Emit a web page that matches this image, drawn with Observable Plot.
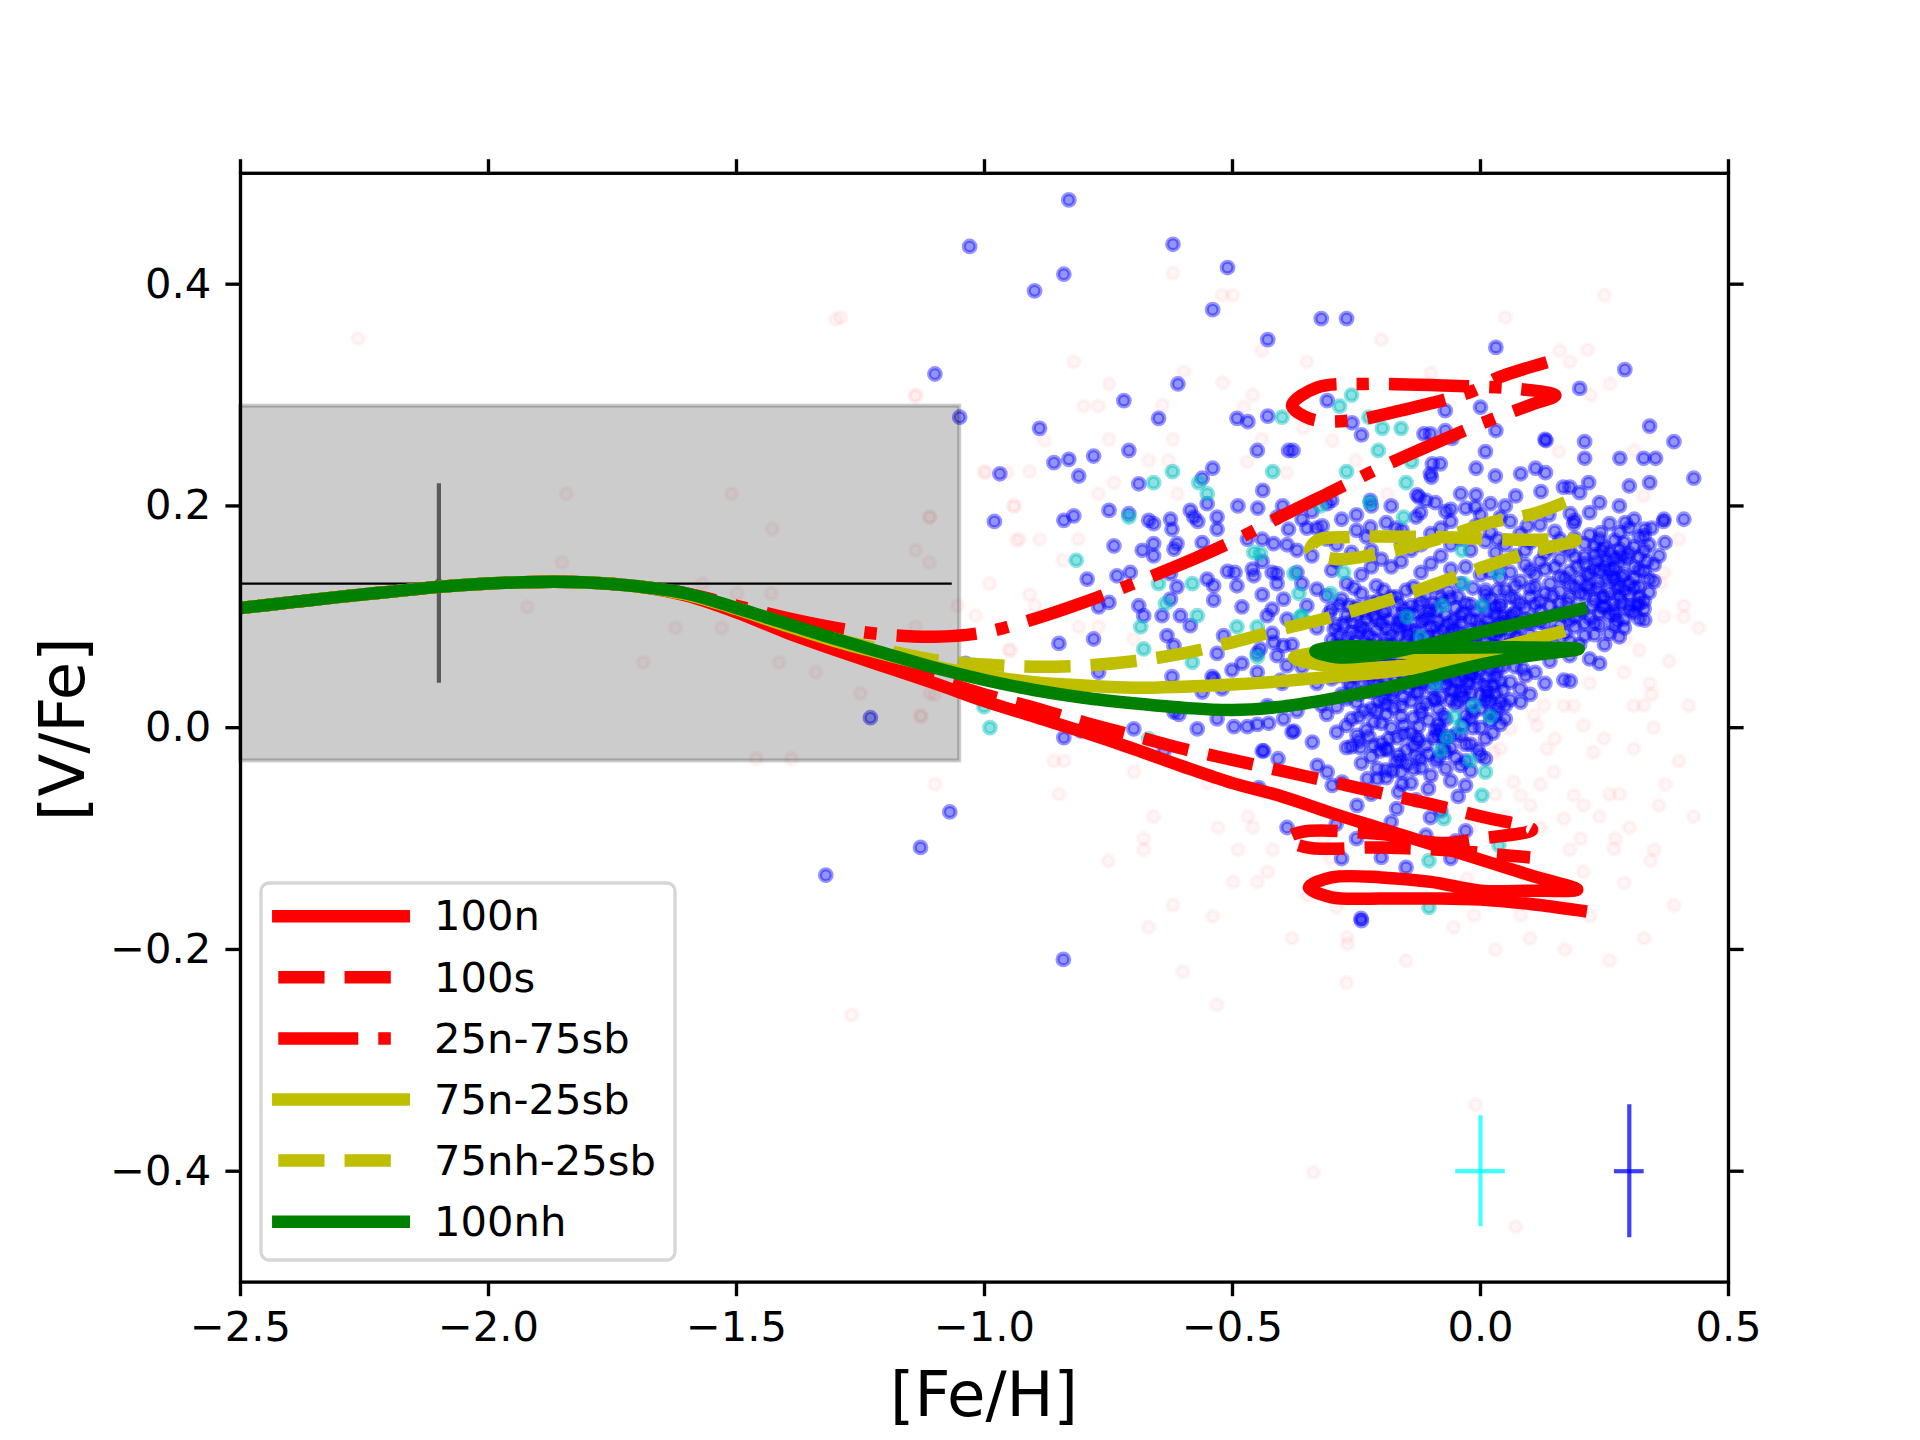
<!DOCTYPE html>
<html><head><meta charset="utf-8">
<script src="https://cdn.jsdelivr.net/npm/d3@7"></script>
<script src="https://cdn.jsdelivr.net/npm/@observablehq/plot@0.6"></script>
<style>html,body{margin:0;padding:0;background:#fff;}#chart{width:1920px;height:1440px;}</style>
</head><body><div id="chart"></div>
<script>
const xTicks = [-2.5,-2,-1.5,-1,-0.5,0,0.5];
const yTicks = [-0.4,-0.2,0,0.2,0.4];
const seriesNames = ["100n","100s","25n-75sb","75n-25sb","75nh-25sb","100nh"];

const baseCurve = [[-2.5,0.108],[-2.4,0.113],[-2.3,0.118],[-2.2,0.1225],[-2.1,0.127],[-2.0,0.130],[-1.9,0.1315],[-1.8,0.131],[-1.7,0.1275]];
const curve100n = [[-1.6,0.119],[-1.5,0.104],[-1.4,0.086],[-1.3,0.070],[-1.2,0.055],[-1.1,0.040],[-1.0,0.024],[-0.9,0.010],[-0.8,-0.004],[-0.7,-0.019],[-0.6,-0.035],[-0.5,-0.050],[-0.4,-0.062],[-0.3,-0.077],[-0.2,-0.091],[-0.1,-0.105],[0.0,-0.119],[0.1,-0.133],[0.195,-0.146],[0.1,-0.147],[0.0,-0.147],[-0.1,-0.139],[-0.2,-0.135],[-0.3,-0.135],[-0.346,-0.144],[-0.3,-0.153],[-0.2,-0.154],[-0.1,-0.154],[0.0,-0.155],[0.1,-0.159],[0.202,-0.165]];
const curve100s = [[-1.6,0.120],[-1.5,0.105],[-1.4,0.089],[-1.3,0.074],[-1.2,0.059],[-1.1,0.044],[-1.0,0.030],[-0.9,0.018],[-0.8,0.005],[-0.7,-0.007],[-0.6,-0.019],[-0.5,-0.029],[-0.4,-0.039],[-0.3,-0.049],[-0.2,-0.059],[-0.1,-0.069],[0.0,-0.080],[0.104,-0.092],[0.0,-0.100],[-0.08,-0.104],[-0.2,-0.096],[-0.36,-0.094],[-0.39,-0.100],[-0.35,-0.108],[-0.2,-0.108],[-0.05,-0.111],[0.05,-0.115],[0.10,-0.117]];
const curve25n75sb = [[-1.6,0.121],[-1.5,0.110],[-1.4,0.099],[-1.3,0.090],[-1.2,0.084],[-1.1,0.082],[-1.0,0.086],[-0.9,0.098],[-0.8,0.113],[-0.7,0.130],[-0.6,0.148],[-0.5,0.168],[-0.4,0.191],[-0.3,0.213],[-0.2,0.235],[-0.1,0.255],[0.0,0.274],[0.1,0.291],[0.151,0.2996],[0.074,0.3056],[-0.074,0.3086],[-0.235,0.310],[-0.329,0.307],[-0.380,0.2906],[-0.343,0.2786],[-0.262,0.277],[-0.175,0.2846],[-0.0135,0.304],[0.0302,0.3147],[0.134,0.3296]];
const curve75n25sb = [[-1.6,0.120],[-1.5,0.107],[-1.4,0.092],[-1.3,0.078],[-1.2,0.066],[-1.1,0.055],[-1.0,0.047],[-0.9,0.041],[-0.8,0.038],[-0.7,0.036],[-0.6,0.037],[-0.5,0.039],[-0.4,0.042],[-0.3,0.046],[-0.195,0.050],[-0.1,0.055],[0.0,0.060],[0.04,0.062],[-0.128,0.067],[-0.296,0.069],[-0.376,0.063],[-0.296,0.055],[-0.128,0.057],[0.007,0.069],[0.158,0.086]];
const curve75nh25sb = [[-1.6,0.120],[-1.5,0.108],[-1.4,0.093],[-1.3,0.080],[-1.2,0.070],[-1.1,0.061],[-1.0,0.057],[-0.9,0.055],[-0.8,0.056],[-0.7,0.060],[-0.6,0.067],[-0.5,0.077],[-0.4,0.089],[-0.3,0.100],[-0.2,0.113],[-0.1,0.128],[0.0,0.144],[0.114,0.160],[0.192,0.169],[0.074,0.1695],[-0.094,0.172],[-0.262,0.172],[-0.329,0.169],[-0.343,0.160],[-0.290,0.152],[-0.195,0.158],[-0.094,0.169],[0.020,0.185],[0.107,0.193],[0.171,0.2034]];
const curve100nh = [[-1.6,0.121],[-1.5,0.108],[-1.4,0.094],[-1.3,0.080],[-1.2,0.067],[-1.1,0.054],[-1.0,0.043],[-0.9,0.034],[-0.8,0.027],[-0.7,0.022],[-0.6,0.018],[-0.5,0.016],[-0.4,0.019],[-0.3,0.026],[-0.2,0.035],[-0.1,0.046],[0.0,0.057],[0.1,0.065],[0.198,0.071],[0.07,0.0725],[-0.13,0.072],[-0.29,0.073],[-0.333,0.069],[-0.29,0.0636],[-0.195,0.0667],[-0.06,0.080],[0.074,0.0937],[0.202,0.107]];

const boxX = [-2.5,-1.05];
const boxY = [-0.03,0.29];
const meanLine = {y:0.13, x1:-2.5, x2:-1.065};
const lowFeBar = {x:-2.1, y:0.13, lo:0.04, hi:0.22};
const crossX = [0.0,0.3];
const crossY = [-0.4,-0.4];
const crossXErr = [0.05,0.03];
const crossYErr = [0.05,0.06];

const blueOuter = [[-0.830,0.476],[-1.030,0.434],[-0.620,0.436],[-0.840,0.409],[-0.899,0.394],[-0.510,0.415],[-0.540,0.377],[-0.429,0.350],[-1.100,0.319],[-0.610,0.310],[-0.719,0.295],[-1.050,0.280],[-0.649,0.279],[-0.889,0.270],[-0.491,0.279],[-0.469,0.276],[-0.429,0.281],[-0.450,0.250],[-0.709,0.250],[-0.860,0.239],[-0.830,0.242],[-0.780,0.245],[-0.810,0.227],[-0.969,0.229],[-0.689,0.220],[-0.540,0.234],[-0.561,0.225],[-0.439,0.214],[-0.551,0.202],[-0.489,0.200],[-0.449,0.198],[-0.399,0.200],[-0.980,0.186],[-0.840,0.187],[-0.820,0.191],[-0.749,0.196],[-0.709,0.193],[-0.669,0.187],[-0.659,0.184],[-0.625,0.188],[-0.622,0.179],[-0.585,0.196],[-0.578,0.190],[-0.570,0.186],[-0.531,0.190],[-0.531,0.179],[-0.739,0.164],[-0.682,0.160],[-0.659,0.166],[-0.659,0.155],[-0.618,0.161],[-0.612,0.166],[-0.561,0.167],[-0.470,0.170],[-0.440,0.170],[-0.417,0.166],[-0.387,0.179],[-0.387,0.250],
[-0.321,0.369],[-0.270,0.369],[0.031,0.343],[0.291,0.323],[0.200,0.306],[-0.309,0.295],[0.000,0.289],[-0.071,0.286],[-0.259,0.275],[-0.240,0.264],[-0.114,0.265],[-0.101,0.265],[-0.071,0.268],[-0.057,0.261],[0.031,0.268],[-0.378,0.250],[0.010,0.249],[0.130,0.260],[0.132,0.259],[0.210,0.258],[0.341,0.272],[0.390,0.258],[0.210,0.243],[0.281,0.243],[0.329,0.243],[0.353,0.243],[-0.097,0.238],[-0.081,0.238],[-0.101,0.229],[-0.099,0.226],[-0.009,0.234],[0.030,0.227],[0.081,0.229],[0.111,0.234],[0.131,0.230],[0.218,0.221],[0.300,0.218],[0.341,0.221],[0.430,0.225],[0.167,0.217],[0.180,0.217],[0.122,0.213],[0.200,0.212],[0.071,0.209],[-0.040,0.211],[-0.009,0.210],[-0.128,0.210],[-0.124,0.208],[-0.091,0.203],[0.020,0.202],[0.240,0.203],[0.280,0.200],[-0.222,0.205],[-0.309,0.202],[-0.250,0.192],[-0.121,0.194],[-0.060,0.197],[-0.010,0.199],[0.138,0.192],[0.181,0.193],[0.220,0.194],[0.370,0.188],[0.410,0.188],[-0.360,0.188],[-0.319,0.182],[-0.158,0.178],[0.188,0.184],[0.292,0.185],[0.331,0.179],[0.372,0.167],[0.242,0.176],[0.094,0.182],[-0.222,0.181],[0.369,0.186],
[-1.230,0.009],[-1.320,-0.133],[-1.129,-0.108],[-1.070,-0.076],[-0.841,-0.209],[-0.241,-0.172],[-0.850,0.076],[-0.780,0.080],[-0.770,0.050],[-1.038,0.058],[-1.149,0.062],[-0.840,-0.009],[-0.806,-0.003],[-0.699,-0.001],[-0.638,-0.021],[-0.437,-0.021],[-0.408,-0.028],[-0.447,-0.054],[-0.390,-0.090],
[-0.571,-0.001],[-0.531,0.008],[-0.497,0.001],[-0.470,0.001],[-0.450,0.003],[-0.427,0.004],[-0.397,0.008],[-0.618,0.014],[-0.608,0.012],[-0.561,0.032],[-0.538,0.044],[-0.521,0.035],[-0.501,0.052],[-0.481,0.058],[-0.450,0.067],[-0.622,0.046],[-0.541,0.046],
[-0.538,0.115],[-0.585,0.092],[-0.605,0.101],[-0.632,0.083],[-0.618,0.074],[-0.689,0.110],[-0.679,0.101],[-0.642,0.101],[-0.625,0.116],[-0.612,0.127],[-0.481,0.109],[-0.518,0.083],[-0.531,0.067],[-0.430,0.101],[-0.420,0.107],[-0.397,0.116],[-0.390,0.098],[-0.770,0.109],[-0.749,0.113],[-0.793,0.134],[-0.491,0.128],
[-0.733,0.137],[-0.706,0.140],[-0.625,0.139],[-0.551,0.134],[-0.538,0.128],[-0.457,0.137],[-0.410,0.139],[-0.510,0.141],[-0.495,0.140],[-0.460,0.143],[-0.420,0.140],
[-0.444,0.071],[-0.410,0.065],[-0.397,0.074],[-0.417,0.077],[-0.390,0.056],[-0.403,0.043],
[0.331,0.097],[0.330,0.107],[0.320,0.112],[0.300,0.110],[0.270,0.106],[0.245,0.109],[0.240,0.058],[0.168,0.043],[0.181,0.042],[0.091,0.047],[0.081,0.023],[0.040,0.023],[0.013,0.028],[0.010,-0.028],[-0.030,-0.030],[-0.030,-0.052],[-0.030,-0.093],[-0.101,-0.081],[-0.158,-0.051],[-0.169,-0.073],[-0.200,-0.117],[-0.280,-0.118],[-0.240,-0.174],[-0.249,-0.070],[-0.291,-0.087],[-0.329,-0.034],[-0.309,-0.040],[-0.299,-0.052],[-0.228,-0.046],[-0.208,-0.046],[-0.376,-0.003],[-0.339,-0.013],[-0.128,-0.009],[-0.074,-0.010],[-0.060,-0.018],[-0.087,-0.007],[-0.148,-0.033],[-0.135,-0.037],[-0.121,-0.028],[-0.168,-0.009],[-0.249,-0.007],[-0.242,-0.018],[-0.215,-0.016],[-0.202,-0.021],[-0.188,-0.020],[-0.208,-0.037],[-0.440,-0.021],[-0.380,-0.004],[-0.279,-0.049],[-0.178,-0.039],[-0.160,-0.030],[-0.130,-0.025],[-0.081,-0.002]];

const blueCore = [[-0.28,0.116],[-0.22,0.113],[-0.17,0.118],[-0.12,0.114],[-0.08,0.117],[-0.03,0.112],[0.02,0.116],
[-0.30,0.107],[-0.25,0.109],[-0.19,0.106],[-0.14,0.110],[-0.10,0.107],[-0.05,0.108],[-0.01,0.105],[0.04,0.109],
[-0.27,0.101],[-0.23,0.098],[-0.16,0.102],[-0.11,0.099],[-0.07,0.101],[-0.02,0.098],[0.03,0.102],
[-0.29,0.093],[-0.24,0.091],[-0.20,0.094],[-0.15,0.092],[-0.12,0.095],[-0.09,0.091],[-0.04,0.094],[0.00,0.092],[0.05,0.095],
[-0.26,0.086],[-0.21,0.088],[-0.18,0.084],[-0.13,0.087],[-0.06,0.085],[-0.02,0.087],[0.02,0.084],
[-0.30,0.079],[-0.25,0.077],[-0.19,0.080],[-0.15,0.078],[-0.11,0.081],[-0.08,0.077],[-0.04,0.080],[0.01,0.078],[0.04,0.081],
[-0.28,0.072],[-0.22,0.074],[-0.17,0.071],[-0.12,0.073],[-0.09,0.070],[-0.05,0.074],[-0.01,0.071],[0.03,0.073],
[-0.26,0.065],[-0.20,0.063],[-0.16,0.066],[-0.13,0.064],[-0.10,0.067],[-0.07,0.063],[-0.03,0.066],[0.01,0.064],[0.05,0.066],
[-0.29,0.058],[-0.24,0.060],[-0.18,0.057],[-0.14,0.059],[-0.08,0.056],[-0.04,0.059],[0.00,0.057],[0.03,0.060],
[-0.27,0.051],[-0.21,0.049],[-0.17,0.052],[-0.11,0.050],[-0.06,0.053],[-0.02,0.049],[0.02,0.052],
[-0.30,0.044],[-0.23,0.046],[-0.19,0.043],[-0.15,0.045],[-0.12,0.042],[-0.09,0.046],[-0.05,0.043],[-0.01,0.045],[0.04,0.042],
[-0.26,0.037],[-0.20,0.035],[-0.16,0.038],[-0.10,0.036],[-0.07,0.039],[-0.03,0.035],[0.01,0.038],
[-0.28,0.030],[-0.22,0.032],[-0.18,0.029],[-0.13,0.031],[-0.08,0.028],[-0.04,0.032],[0.00,0.029],[0.03,0.031],
[-0.25,0.023],[-0.19,0.021],[-0.14,0.024],[-0.11,0.022],[-0.06,0.025],[-0.02,0.021],[0.02,0.024],
[-0.235,0.104],[-0.185,0.097],[-0.135,0.103],[-0.085,0.096],[-0.035,0.104],
[-0.225,0.083],[-0.165,0.090],[-0.105,0.083],[-0.055,0.089],[-0.005,0.083],
[-0.245,0.068],[-0.185,0.061],[-0.115,0.069],[-0.065,0.061],[-0.015,0.068],
[-0.215,0.054],[-0.155,0.047],[-0.095,0.054],[-0.035,0.047],
[-0.235,0.040],[-0.175,0.033],[-0.115,0.040],[-0.055,0.033],[-0.005,0.040],
[-0.265,0.110],[-0.205,0.115],[-0.155,0.107],[-0.095,0.112],[-0.045,0.118],[0.005,0.110],[0.045,0.100],
[-0.275,0.094],[-0.215,0.101],[-0.165,0.096],[-0.105,0.104],[-0.055,0.097],[0.015,0.097],[0.035,0.088],
[-0.285,0.083],[-0.235,0.089],[-0.195,0.075],[-0.145,0.084],[-0.075,0.088],[-0.025,0.076],[0.025,0.090],
[-0.265,0.074],[-0.205,0.069],[-0.145,0.070],[-0.095,0.076],[-0.035,0.072],[0.015,0.059],[0.045,0.070],
[-0.275,0.062],[-0.225,0.056],[-0.165,0.059],[-0.125,0.055],[-0.055,0.066],[-0.015,0.055],[0.035,0.054],
[-0.255,0.046],[-0.205,0.041],[-0.135,0.048],[-0.075,0.045],[-0.025,0.041],[0.015,0.046],
[-0.245,0.030],[-0.195,0.026],[-0.145,0.036],[-0.095,0.026],[-0.045,0.024],[0.015,0.033],
[-0.235,0.015],[-0.175,0.018],[-0.085,0.017],[-0.015,0.014],[0.035,0.018],
[-0.215,0.005],[-0.155,0.002],[-0.105,0.007],[-0.035,0.003],[0.025,-0.005],[-0.185,-0.010],[-0.125,-0.012],[-0.065,-0.008],[-0.005,-0.020],[-0.245,-0.012],[-0.165,-0.025],[-0.085,-0.027],[-0.105,-0.055],[-0.165,-0.058],[-0.045,-0.062]];

const blueCore2 = [[-0.255,0.126],[-0.195,0.124],[-0.135,0.127],[-0.065,0.123],[-0.015,0.126],[0.035,0.124],
[-0.31,0.119],[-0.24,0.121],[-0.18,0.118],[-0.11,0.120],[-0.06,0.117],[0.01,0.120],[0.06,0.118],
[-0.285,0.111],[-0.215,0.109],[-0.165,0.112],[-0.125,0.110],[-0.075,0.113],[-0.02,0.111],[0.03,0.109],[0.08,0.112],
[-0.305,0.103],[-0.25,0.101],[-0.195,0.104],[-0.145,0.102],[-0.09,0.105],[-0.04,0.101],[0.015,0.104],[0.065,0.102],
[-0.26,0.096],[-0.21,0.098],[-0.16,0.095],[-0.115,0.097],[-0.065,0.094],[-0.01,0.097],[0.04,0.095],[0.09,0.098],
[-0.295,0.089],[-0.245,0.087],[-0.19,0.090],[-0.14,0.088],[-0.10,0.091],[-0.045,0.087],[0.01,0.090],[0.06,0.088],
[-0.27,0.082],[-0.215,0.080],[-0.165,0.083],[-0.125,0.081],[-0.085,0.084],[-0.03,0.080],[0.03,0.083],[0.075,0.081],
[-0.29,0.075],[-0.235,0.077],[-0.18,0.074],[-0.135,0.076],[-0.065,0.073],[-0.015,0.076],[0.055,0.074],
[-0.255,0.068],[-0.21,0.066],[-0.155,0.069],[-0.11,0.067],[-0.075,0.070],[-0.025,0.066],[0.025,0.069],[0.07,0.067],
[-0.28,0.061],[-0.23,0.063],[-0.19,0.060],[-0.145,0.062],[-0.09,0.059],[-0.045,0.062],[0.005,0.060],[0.045,0.063],
[-0.25,0.054],[-0.195,0.052],[-0.15,0.055],[-0.10,0.053],[-0.055,0.056],[-0.005,0.052],[0.045,0.055],[0.085,0.053],
[-0.285,0.047],[-0.22,0.049],[-0.175,0.046],[-0.125,0.048],[-0.065,0.045],[-0.02,0.048],[0.03,0.046],
[-0.265,0.040],[-0.21,0.038],[-0.14,0.041],[-0.09,0.039],[-0.04,0.042],[0.025,0.038],[0.06,0.041],
[-0.23,0.033],[-0.185,0.035],[-0.125,0.032],[-0.06,0.034],[-0.02,0.031],[0.045,0.034],
[-0.27,0.026],[-0.205,0.024],[-0.155,0.027],[-0.09,0.025],[-0.035,0.028],[0.01,0.024],
[-0.29,0.019],[-0.22,0.017],[-0.16,0.020],[-0.12,0.018],[-0.05,0.021],[0.00,0.017],[0.05,0.020],
[-0.245,0.010],[-0.19,0.012],[-0.135,0.009],[-0.075,0.011],[-0.02,0.008],[0.03,0.011],
[-0.27,0.002],[-0.20,0.004],[-0.125,0.001],[-0.085,0.003],[-0.015,0.000],[0.04,0.003],
[-0.225,-0.008],[-0.155,-0.006],[-0.095,-0.009],[-0.04,-0.007],[0.01,-0.010],
[-0.26,-0.017],[-0.19,-0.019],[-0.135,-0.016],[-0.075,-0.018],[-0.03,-0.015],
[-0.22,-0.026],[-0.105,-0.024],[-0.05,-0.027],[0.00,-0.025],
[-0.19,-0.038],[-0.16,-0.040],[-0.07,-0.037],[-0.02,-0.039]];

const blueRight = [[0.06,0.186],[0.12,0.183],[0.19,0.187],[0.26,0.184],[0.31,0.188],
[0.08,0.175],[0.15,0.177],[0.22,0.174],[0.28,0.176],[0.33,0.173],
[0.05,0.165],[0.10,0.167],[0.17,0.164],[0.21,0.166],[0.25,0.163],[0.29,0.167],[0.34,0.165],
[0.07,0.155],[0.13,0.157],[0.19,0.154],[0.23,0.156],[0.27,0.153],[0.30,0.157],[0.32,0.154],
[0.09,0.147],[0.15,0.145],[0.21,0.148],[0.25,0.146],[0.28,0.149],[0.31,0.145],[0.35,0.147],
[0.06,0.140],[0.11,0.138],[0.18,0.141],[0.22,0.139],[0.26,0.142],[0.29,0.138],[0.33,0.141],
[0.08,0.132],[0.14,0.130],[0.20,0.133],[0.24,0.131],[0.27,0.134],[0.30,0.130],
[0.05,0.124],[0.10,0.126],[0.16,0.123],[0.22,0.125],[0.26,0.122],[0.31,0.126],
[0.07,0.116],[0.12,0.114],[0.18,0.117],[0.23,0.115],[0.28,0.118],[0.33,0.114],
[0.09,0.108],[0.14,0.110],[0.20,0.107],[0.25,0.109],[0.30,0.106],
[0.06,0.100],[0.11,0.098],[0.17,0.101],[0.22,0.099],[0.27,0.102],[0.32,0.098],
[0.08,0.092],[0.13,0.094],[0.19,0.091],[0.24,0.093],[0.29,0.090],
[0.10,0.084],[0.15,0.086],[0.21,0.083],[0.26,0.085],
[0.235,0.150],[0.265,0.137],[0.285,0.155],[0.215,0.128],[0.245,0.160],[0.275,0.125],
[0.06,0.075],[0.09,0.068],[0.12,0.072],[0.07,0.055],[0.11,0.050],[0.14,0.060],[0.08,0.035],[0.13,0.040],[0.06,0.025],[0.10,0.030],[0.15,0.075],[0.18,0.065],[0.20,0.075],[0.17,0.085],[0.02,0.012],[0.05,0.008],[0.22,0.062],[0.25,0.075],[0.28,0.082],
[0.035,0.170],[0.09,0.160],[0.16,0.170],[0.24,0.170],[0.30,0.180],[0.345,0.180],
[0.12,0.150],[0.18,0.160],[0.26,0.158],[0.33,0.160],[0.36,0.155],
[0.04,0.135],[0.10,0.142],[0.16,0.136],[0.23,0.143],[0.31,0.135],[0.35,0.132],
[0.07,0.128],[0.13,0.121],[0.19,0.127],[0.25,0.118],[0.29,0.124],[0.34,0.122],
[0.04,0.112],[0.10,0.118],[0.16,0.112],[0.21,0.120],[0.27,0.112],[0.32,0.118],
[0.07,0.104],[0.12,0.105],[0.19,0.100],[0.24,0.104],[0.29,0.098],
[0.04,0.088],[0.10,0.094],[0.16,0.092],[0.21,0.094],[0.27,0.092],
[0.07,0.082],[0.12,0.080],[0.18,0.078],[0.23,0.084],
[0.19,0.171],[0.27,0.169],[0.32,0.172],
[0.14,0.162],[0.23,0.164],[0.28,0.161],[0.31,0.163],
[0.16,0.152],[0.21,0.154],[0.255,0.151],[0.295,0.153],[0.335,0.150],
[0.13,0.143],[0.195,0.145],[0.24,0.142],[0.27,0.144],[0.32,0.142],
[0.17,0.135],[0.215,0.137],[0.255,0.134],[0.285,0.136],[0.34,0.134],
[0.11,0.127],[0.18,0.129],[0.235,0.126],[0.28,0.128],[0.32,0.127],
[0.145,0.119],[0.20,0.121],[0.245,0.118],[0.30,0.120],
[0.11,0.111],[0.175,0.113],[0.225,0.110],[0.285,0.112],[0.315,0.110],
[0.155,0.103],[0.205,0.105],[0.26,0.102],[0.31,0.104],
[0.12,0.095],[0.18,0.097],[0.23,0.094],[0.275,0.096]];

const blueFringe = [[-0.33,0.125],[-0.27,0.130],[-0.21,0.128],[-0.15,0.124],[-0.09,0.127],[-0.04,0.130],[0.01,0.124],
[-0.30,0.142],[-0.24,0.138],[-0.18,0.145],[-0.12,0.140],[-0.06,0.143],[0.00,0.138],[0.04,0.148],
[-0.34,0.155],[-0.26,0.158],[-0.20,0.152],[-0.14,0.160],[-0.08,0.155],[-0.02,0.160],[0.03,0.158],
[-0.31,0.170],[-0.23,0.172],[-0.16,0.168],[-0.10,0.175],[-0.04,0.170],[0.02,0.176],
[-0.28,0.188],[-0.19,0.185],[-0.13,0.190],[-0.06,0.186],[0.00,0.192],
[-0.22,0.200],[-0.11,0.205],[-0.03,0.198],
[-0.44,0.120],[-0.41,0.130],[-0.37,0.140],[-0.35,0.110],[-0.33,0.090],[-0.38,0.075],[-0.42,0.085],[-0.36,0.055],[-0.33,0.040],[-0.40,0.040],[-0.45,0.050],[-0.32,0.020],[-0.37,0.015],[-0.43,0.020],[-0.35,0.180],[-0.39,0.165],[-0.44,0.150],[-0.34,0.195],[-0.41,0.190],
[-0.31,0.012],[-0.26,0.008],[-0.21,0.015],[-0.16,0.010],[-0.12,0.013],[-0.07,0.008],[-0.03,0.011],[0.02,0.006],
[-0.29,-0.004],[-0.23,-0.002],[-0.18,0.000],[-0.14,-0.005],[-0.09,-0.002],[-0.05,-0.006],[0.00,0.000],
[-0.27,-0.018],[-0.20,-0.014],[-0.15,-0.020],[-0.11,-0.016],[-0.07,-0.022],[-0.02,-0.015],
[-0.24,-0.032],[-0.17,-0.030],[-0.12,-0.036],[-0.09,-0.030],[-0.04,-0.034],
[-0.19,-0.045],[-0.14,-0.050],[-0.10,-0.043],[-0.06,-0.048],
[-0.22,-0.060],[-0.13,-0.065],[-0.08,-0.075],[-0.18,-0.085],[-0.11,-0.097],[-0.05,-0.102],[-0.25,-0.100],[-0.15,-0.126],[-0.06,-0.118],
[-0.36,0.130],[-0.29,0.150],[-0.22,0.145],[-0.16,0.150],[-0.10,0.148],[-0.03,0.145],[0.02,0.140],
[-0.37,0.160],[-0.29,0.165],[-0.22,0.160],[-0.12,0.165],[-0.06,0.165],[0.01,0.168],
[-0.33,0.180],[-0.25,0.178],[-0.17,0.180],[-0.08,0.180],[-0.01,0.182],[0.04,0.190],
[-0.30,0.205],[-0.18,0.200],[-0.07,0.195],[0.05,0.200]];

const cyanStars = [[-0.400,0.280],[-0.621,0.231],[-0.659,0.221],[-0.419,0.231],[-0.551,0.211],[-0.568,0.221],[-0.709,0.190],[-0.815,0.151],[-0.457,0.158],
[-0.260,0.300],[-0.284,0.290],[-0.225,0.280],[-0.198,0.270],[-0.160,0.270],[-0.206,0.250],[-0.139,0.240],[-0.270,0.231],[-0.150,0.221],[-0.223,0.203],[-0.323,0.200],[-0.155,0.190],
[-0.685,0.091],[-0.679,0.071],[-0.581,0.130],[-0.571,0.101],[-0.635,0.112],[-0.491,0.091],[-0.450,0.091],[-0.581,0.059],[-0.989,0.000],[-1.001,0.019],[-0.995,0.050],[-0.669,-0.010],[-0.649,0.130],[-0.450,0.064],
[0.020,0.010],[-0.040,0.000],[-0.081,-0.021],[-0.020,-0.030],[0.010,-0.040],[0.003,-0.061],[-0.074,-0.082],[-0.104,-0.120],[-0.104,-0.162],[0.003,0.110],[-0.077,0.110],[-0.148,0.100],[-0.302,0.121],[-0.366,0.121],[-0.360,0.101],[-0.121,0.082],[-0.013,0.020],[-0.053,0.010],[-0.067,-0.009],[0.034,0.140],[-0.034,0.130],[-0.276,0.140],[-0.091,0.040],[0.037,-0.106],
[-0.444,0.157],[-0.376,0.139],[-0.363,0.100],[-0.037,0.160]];

const pinkStars = [[-2.263,0.351],[-1.300,0.368],[-1.843,0.211],[-1.922,0.109],[-1.510,0.211],[-1.428,0.179],[-1.688,0.059],[-1.623,0.090],[-1.460,-0.028],[-1.389,-0.028],[-1.414,0.059],[-1.268,-0.259],[-1.140,0.299],[-1.100,-0.051],[-1.250,0.031],[-1.110,0.031],[-1.129,0.011],
[-1.852,0.149],[-1.569,0.130],[-1.499,0.121],[-1.430,0.121],[-1.530,0.090],[-1.340,0.050],[-1.128,0.010],[-1.100,0.030],[-1.111,0.190],[-1.139,0.160],[-1.111,0.149],[-0.990,0.130],[-1.054,0.110],[-1.018,0.101],[-0.948,0.070],[-0.996,0.025],[-0.941,0.200],[-0.998,0.230],[-0.955,0.230],[-0.936,0.169],
[-1.290,0.370],[-0.620,0.410],[-0.521,0.390],[-0.499,0.390],[-0.820,0.330],[-0.598,0.321],[-0.749,0.310],[-0.520,0.311],[-0.459,0.300],[-1.138,0.300],[-0.800,0.290],[-0.770,0.290],[-0.641,0.291],[-0.477,0.289],[-0.441,0.340],[-0.879,0.259],[-0.749,0.260],[-0.620,0.260],[-0.441,0.260],[-0.669,0.241],[-0.629,0.241],[-0.470,0.240],[-1.000,0.231],[-0.909,0.231],[-0.739,0.221],[-0.611,0.211],[-0.770,0.211],[-0.940,0.200],[-1.110,0.190],[-0.930,0.170],[-0.889,0.170],[-0.811,0.170],[-0.842,0.151],
[0.250,0.390],[0.160,0.340],[0.261,0.310],[0.222,0.300],[0.158,0.249],[0.329,0.209],[-0.188,0.211],[-0.357,0.270],[-0.299,0.259],[-0.391,0.230],[-0.252,0.241],[0.216,0.341],
[-0.909,0.120],[-0.898,0.110],[-1.139,0.091],[-0.810,0.091],[-0.770,0.091],[-0.950,0.070],[-0.699,0.080],[-0.860,-0.030],[-0.840,-0.030],[-0.699,-0.040],[-0.659,-0.080],[-0.679,-0.100],[-0.679,-0.110],[-0.529,-0.090],[-0.469,-0.080],[-0.459,-0.090],[-0.489,-0.110],[-0.419,-0.110],[-0.429,-0.130],[-0.499,-0.139],[-0.450,-0.139],[-0.620,-0.160],[-0.540,-0.170],[-0.669,-0.180],
[0.410,0.110],[0.410,0.100],[0.370,0.100],[0.363,0.130],[0.262,0.080],[0.292,0.080],[0.289,0.050],[0.341,0.040],[0.345,0.030],[0.309,0.020],[0.329,0.020],[0.349,0.000],[0.309,-0.019],[0.373,-0.051],[0.260,-0.060],[0.280,-0.060],[0.343,-0.120],[0.269,-0.109],[0.208,-0.130],
[0.208,-0.070],[0.202,-0.100],[0.188,-0.061],[0.168,-0.082],[0.148,-0.040],[0.121,-0.051],[0.101,-0.070],[0.081,-0.061],[0.067,-0.049],[0.040,-0.019],[0.060,-0.001],[0.107,0.011],[0.134,-0.019],[0.114,0.002],[0.128,0.020],[0.168,0.020],[0.188,0.020],[0.208,0.002],[0.228,-0.022],[0.249,-0.010],[-0.067,-0.040],[-0.047,-0.019],[-0.027,-0.010],[0.000,-0.010],[0.027,-0.022],[-0.101,-0.049],[-0.121,-0.061],[-0.027,-0.136],[-0.013,-0.169],[-0.054,-0.180],[-0.269,-0.189],[-0.290,-0.162],[-0.349,-0.151],[-0.302,-0.118],[-0.316,-0.100],[0.081,-0.169],[0.134,-0.136],[0.168,-0.160],[0.272,-0.100],
[-0.010,-0.340],[0.071,-0.450],[-0.337,-0.401],[-0.532,-0.250],[-0.268,-0.195],
[0.05,-0.08],[0.12,-0.09],[0.18,-0.11],[0.24,-0.08],[0.30,-0.09],[0.36,-0.07],[0.40,-0.03],[0.42,0.02],[0.38,0.06],[0.32,0.07],[0.22,0.04],[0.15,-0.01],[0.09,0.04],[0.03,-0.06],[-0.02,-0.09],[0.06,-0.12],[0.14,-0.15],[0.22,-0.17],[0.29,-0.14],[0.35,-0.11],[0.39,-0.16],[0.33,-0.19],[0.26,-0.21],[0.17,-0.20],[0.10,-0.19],[0.03,-0.20],[-0.08,-0.14],[-0.15,-0.21],[0.44,0.09],[0.43,-0.08],[0.37,0.14],[0.40,0.17],[0.31,0.25],[0.18,0.33],[0.05,0.37],[-0.10,0.32],[-0.20,0.35],[-0.35,0.33],[-0.55,-0.05],[-0.75,-0.12],[-0.60,-0.22],[-0.85,-0.06],[-0.38,-0.19],[-0.27,-0.23]];

const X = d => d[0], Y = d => d[1];
const fmt = d3.format(".1f");
const blank = () => "";
const RED = "#ff0000", OLIVE = "#bfbf00", GREEN = "#008000";
const dashed = "46.25,20", dashdot = "80,20,12.5,20";
const tickOpts = {tickSize: 14.6, tickPadding: 14.6, strokeWidth: 3.33, fontSize: 41.67, label: null};

const starStyle = (fill, op, sop) => ({x: X, y: Y, r: 5.8, fill, fillOpacity: op, stroke: fill, strokeOpacity: sop, strokeWidth: 4.17});
const lineStyle = (stroke, dash) => ({x: X, y: Y, stroke, strokeWidth: 12.5, strokeDasharray: dash, strokeLinecap: dash ? "butt" : "square", strokeLinejoin: "round", curve: "catmull-rom", clip: true});

const crosses = crossX.map((x, i) => ({x, y: crossY[i], ex: crossXErr[i], ey: crossYErr[i], c: i === 0 ? "#00ffff" : "#0000ff"}));

const chart = Plot.plot({
  width: 1920, height: 1440,
  marginLeft: 240, marginRight: 192, marginTop: 172.8, marginBottom: 158.4,
  x: {domain: [-2.5, 0.5]},
  y: {domain: [-0.5, 0.5]},
  style: {fontFamily: "DejaVu Sans", fontSize: "41.67px", background: "white", color: "black"},
  marks: [
    Plot.dot(pinkStars, starStyle("#ff0000", 0.03, 0.04)),
    Plot.dot(blueOuter.concat(blueCore, blueCore2, blueRight, blueFringe), starStyle("#0000ff", 0.42, 0.42)),
    Plot.dot(cyanStars, starStyle("#00bfbf", 0.45, 0.45)),
    Plot.rect([{x1: boxX[0], x2: boxX[1], y1: boxY[0], y2: boxY[1]}], {x1: "x1", x2: "x2", y1: "y1", y2: "y2", fill: "black", fillOpacity: 0.2, stroke: "black", strokeOpacity: 0.2, strokeWidth: 4}),
    Plot.ruleY([meanLine], {y: "y", x1: "x1", x2: "x2", stroke: "black", strokeWidth: 2.2}),
    Plot.ruleX([lowFeBar], {x: "x", y1: "lo", y2: "hi", stroke: "#5a5a5a", strokeWidth: 4.2}),
    Plot.dot([lowFeBar], {x: "x", y: "y", r: 5, fill: "#4a4a4a", fillOpacity: 0.7}),
    Plot.line(baseCurve.concat(curve100n), lineStyle(RED, null)),
    Plot.line(baseCurve.concat(curve100s), lineStyle(RED, dashed)),
    Plot.line(baseCurve.concat(curve25n75sb), lineStyle(RED, dashdot)),
    Plot.line(baseCurve.concat(curve75n25sb), lineStyle(OLIVE, null)),
    Plot.line(baseCurve.concat(curve75nh25sb), lineStyle(OLIVE, dashed)),
    Plot.line(baseCurve.concat(curve100nh), lineStyle(GREEN, null)),
    Plot.ruleX(crosses, {x: "x", y1: d => d.y - d.ey, y2: d => d.y + d.ey, stroke: "c", strokeOpacity: 0.75, strokeWidth: 4.2}),
    Plot.ruleY(crosses, {y: "y", x1: d => d.x - d.ex, x2: d => d.x + d.ex, stroke: "c", strokeOpacity: 0.75, strokeWidth: 4.2}),
    Plot.frame({stroke: "black", strokeWidth: 3.33}),
    Plot.axisX(xTicks, {...tickOpts, anchor: "bottom", tickFormat: fmt}),
    Plot.axisX(xTicks, {...tickOpts, anchor: "top", tickFormat: blank}),
    Plot.axisY(yTicks, {...tickOpts, anchor: "left", tickFormat: fmt}),
    Plot.axisY(yTicks, {...tickOpts, anchor: "right", tickFormat: blank})
  ]
});
document.getElementById("chart").appendChild(chart);

// axis titles and legend
const sx = chart.scale("x"), sy = chart.scale("y");
const svg = d3.select(chart);
const g = svg.append("g").attr("font-family", "DejaVu Sans").attr("fill", "black");
const cx = (sx.range[0] + sx.range[1]) / 2;
const cy = (sy.range[0] + sy.range[1]) / 2;
g.append("text").attr("x", cx).attr("y", 1416).attr("text-anchor", "middle").attr("font-size", 62.5).text("[Fe/H]");
g.append("text").attr("transform", `translate(84,${cy + 2}) rotate(-90)`).attr("text-anchor", "middle").attr("font-size", 62.5).text("[V/Fe]");

const legendStyles = [[RED, null], [RED, dashed], [RED, dashdot], [OLIVE, null], [OLIVE, dashed], [GREEN, null]];
const lg = svg.append("g").attr("font-family", "DejaVu Sans");
lg.append("rect").attr("x", 261).attr("y", 883).attr("width", 414).attr("height", 377).attr("rx", 8)
  .attr("fill", "white").attr("fill-opacity", 0.8).attr("stroke", "#cccccc").attr("stroke-opacity", 0.8).attr("stroke-width", 3.33);
seriesNames.forEach((name, i) => {
  const yy = 916.2 + i * 61.1;
  const [c, dash] = legendStyles[i];
  lg.append("line").attr("x1", 278.3).attr("x2", 403.8).attr("y1", yy).attr("y2", yy)
    .attr("stroke", c).attr("stroke-width", 12.5).attr("stroke-linecap", dash ? "butt" : "square")
    .attr("stroke-dasharray", dash);
  lg.append("text").attr("x", 434).attr("y", yy + 14.2).attr("text-anchor", "start").attr("font-size", 41.67).attr("fill", "black").text(name);
});
</script>
</body></html>
